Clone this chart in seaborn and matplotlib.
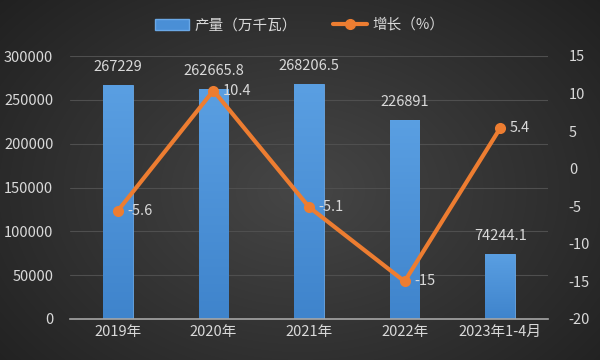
import numpy as np
import matplotlib
matplotlib.use("Agg")
import matplotlib.pyplot as plt
import seaborn as sns
from matplotlib.lines import Line2D
from matplotlib.patches import Patch
import pandas as pd

categories = ["2019年", "2020年", "2021年", "2022年", "2023年1-4月"]
output = [267229, 262665.8, 268206.5, 226891, 74244.1]
output_labels = ["267229", "262665.8", "268206.5", "226891", "74244.1"]
growth = [-5.6, 10.4, -5.1, -15, 5.4]
growth_labels = ["-5.6", "10.4", "-5.1", "-15", "5.4"]
left_ticks = [0, 50000, 100000, 150000, 200000, 250000, 300000]
right_ticks = [-20, -15, -10, -5, 0, 5, 10, 15]

sns.set_style("dark")
plt.rcParams['font.family'] = ['Noto Sans CJK SC', 'DejaVu Sans']

TXT = "#d9d9d9"
BLUE = "#4a8fd6"
ORANGE = "#ed7d31"
FS = 10.5

fig = plt.figure(figsize=(6, 3.6), dpi=100)

# background radial gradient
bg = fig.add_axes([0, 0, 1, 1], zorder=-10)
yy, xx = np.mgrid[0:360, 0:600]
r = np.sqrt(((xx - 300) / 420.0) ** 2 + ((yy - 190) / 300.0) ** 2)
r = np.clip(r, 0, 1)
c0 = np.array([0x46, 0x46, 0x46]) / 255.0
c1 = np.array([0x1f, 0x1f, 0x1f]) / 255.0
img = c0[None, None, :] * (1 - r[..., None]) + c1[None, None, :] * r[..., None]
bg.imshow(img, aspect="auto", extent=[0, 1, 0, 1])
bg.set_axis_off()

ax = fig.add_axes([70 / 600, 41 / 360, 478 / 600, 263 / 360])
ax.set_facecolor("none")
df = pd.DataFrame({"cat": categories, "val": output})
sns.barplot(data=df, x="cat", y="val", ax=ax, color=BLUE, width=0.31,
            saturation=1, zorder=2)

# vertical gradient inside bars
grad = np.linspace(0, 1, 100)[:, None]
ctop = np.array(matplotlib.colors.to_rgb("#5a9fe2"))
cbot = np.array(matplotlib.colors.to_rgb("#3f84cc"))
gimg = ctop[None, None, :] * (1 - grad[..., None]) + cbot[None, None, :] * grad[..., None]
for p in list(ax.patches):
    x0, y0 = p.get_x(), p.get_y()
    w, h = p.get_width(), p.get_height()
    im = ax.imshow(gimg, extent=[x0, x0 + w, y0, y0 + h], aspect="auto", zorder=2.1)
    im.set_clip_path(p)
    p.set_edgecolor("#6aa8e6")
    p.set_linewidth(0.6)

ax.set_xlim(-0.5, 4.5)
ax.set_ylim(0, 300000)
ax.set_yticks(left_ticks)
ax.set_yticklabels([str(t) for t in left_ticks])
ax.grid(axis="y", color="#4f4f4f", linewidth=0.8, zorder=0)
ax.grid(axis="x", visible=False)
ax.set_axisbelow(True)
for s in ["top", "right", "left"]:
    ax.spines[s].set_visible(False)
ax.spines["bottom"].set_color("#a6a6a6")
ax.spines["bottom"].set_linewidth(1.2)
ax.tick_params(axis="both", length=0, colors=TXT, labelsize=FS)
ax.tick_params(axis="x", pad=4)
ax.tick_params(axis="y", pad=12)
ax.set_xlabel("")
ax.set_ylabel("")

for i, (v, lab) in enumerate(zip(output, output_labels)):
    ax.annotate(lab, (i, v), xytext=(0, 8), textcoords="offset points",
                ha="center", va="bottom", color=TXT, fontsize=FS)

ax2 = ax.twinx()
ax2.set_facecolor("none")
sns.lineplot(x=np.arange(len(growth)), y=growth, ax=ax2, color=ORANGE,
             linewidth=3, marker="o", markersize=8, markeredgewidth=0, zorder=5)
ax2.set_ylim(-20, 15)
ax2.set_yticks(right_ticks)
ax2.set_yticklabels([str(t) for t in right_ticks])
ax2.grid(False)
for s in ax2.spines.values():
    s.set_visible(False)
ax2.tick_params(axis="y", length=0, colors=TXT, labelsize=FS, pad=15)
ax2.set_xlim(-0.5, 4.5)
for i, (v, lab) in enumerate(zip(growth, growth_labels)):
    ax2.annotate(lab, (i, v), xytext=(7, 0), textcoords="offset points",
                 ha="left", va="center", color=TXT, fontsize=FS)

handles = [Patch(facecolor=BLUE, edgecolor="#6aa8e6"),
           Line2D([0], [0], color=ORANGE, linewidth=3, marker="o", markersize=7)]
fig.legend(handles, ["产量（万千瓦）", "增长（%）"], loc="upper center",
           bbox_to_anchor=(0.5, 0.985), ncol=2, frameon=False, fontsize=FS,
           labelcolor=TXT, handlelength=2.3, columnspacing=2.5, handletextpad=0.4)

fig.savefig("out.png", dpi=100)
